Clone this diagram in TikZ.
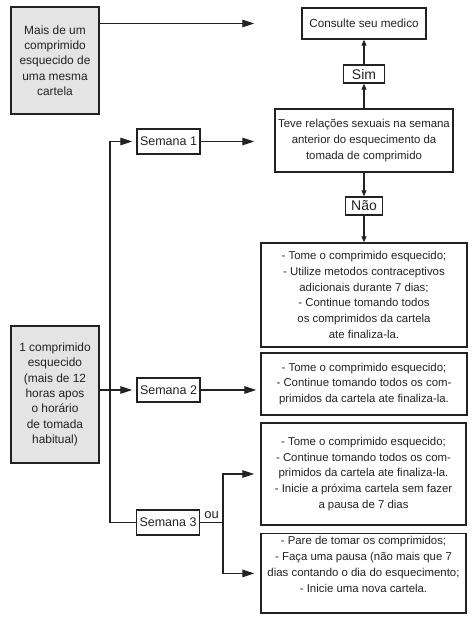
\documentclass[tikz,border=0pt]{standalone}
\usepackage{fontspec}
\setmainfont{Liberation Sans}
\usetikzlibrary{arrows.meta}

\definecolor{ink}{HTML}{222222}
\definecolor{boxgray}{HTML}{E4E4E4}

\begin{document}
\begin{tikzpicture}[x=1pt, y=-1pt,
    box/.style={draw=ink, line width=1.4pt, align=center, text=ink, inner sep=3pt,
      font=\fontsize{11.4}{15.7}\selectfont},
    graybox/.style={box, fill=boxgray, minimum width=88pt, font=\fontsize{11.9}{15.3}\selectfont},
    weekbox/.style={box, minimum width=61pt, minimum height=25pt, font=\fontsize{12.5}{15}\selectfont},
    answer/.style={box, minimum height=18pt, inner sep=1pt, font=\fontsize{14}{15}\selectfont},
    line/.style={draw=ink, line width=1.2pt},
    arr/.style={line, -{Triangle[length=12pt,width=7.5pt]}},
    sarr/.style={line, -{Triangle[length=6pt,width=5pt]}}]
    \useasboundingbox (0,0) rectangle (476,621);
    % left column
    \node[graybox, minimum height=107pt] (mais) at (55,60.5)
      {Mais de um\\comprimido\\esquecido de\\uma mesma\\cartela};
    \node[graybox, minimum height=137pt] (um) at (55,394.5)
      {1 comprimido\\esquecido\\(mais de 12\\horas apos\\o horário\\de tomada\\habitual)};
    % weeks
    \node[weekbox] (semana1) at (168.5,141.5) {Semana 1};
    \node[weekbox, minimum height=24pt] (semana2) at (168.5,390) {Semana 2};
    \node[weekbox, minimum width=62pt] (semana3) at (168,522.5) {Semana 3};
    % right column
    \node[box, minimum width=124pt, minimum height=31pt, font=\fontsize{11.7}{14}\selectfont]
      (consulte) at (364,23.5) {Consulte seu medico};
    \node[answer, minimum width=41pt] (sim) at (364,74) {Sim};
    \node[box, minimum width=178pt, minimum height=63pt] (teve) at (364,140.5)
      {Teve relações sexuais na semana\\anterior do esquecimento da\\tomada de comprimido};
    \node[answer, minimum width=37pt] (nao) at (364,206) {Não};
    \node[box, minimum width=206pt, minimum height=104pt] (b3) at (364,295)
      {- Tome o comprimido esquecido;\\- Utilize metodos contraceptivos\\adicionais durante 7 dias;\\%
       - Continue tomando todos\\os comprimidos da cartela\\ate finaliza-la.};
    \node[box, minimum width=206pt, minimum height=62pt] (b4) at (364,384)
      {- Tome o comprimido esquecido;\\- Continue tomando todos os com-\\primidos da cartela ate finaliza-la.};
    \node[box, minimum width=205pt, minimum height=102pt] (b5) at (363.5,474)
      {- Tome o comprimido esquecido;\\- Continue tomando todos os com-\\primidos da cartela ate finaliza-la.\\%
       - Inicie a próxima cartela sem fazer\\a pausa de 7 dias};
    \node[box, minimum width=205pt, text depth=18pt, anchor=north] (b6) at (363.5,533)
      {- Pare de tomar os comprimidos;\\- Faça uma pausa (não mais que 7\\dias contando o dia do esquecimento;\\- Inicie uma nova cartela.};
    % connectors
    \coordinate (spine) at (110,141.5);
    \coordinate (fork) at (223,522.5);
    \draw[arr, shorten >=47pt] (mais.east |- consulte.west) -- (consulte.west);
    \draw[arr, shorten >=20pt] (semana1.east) -- (semana1.east -| teve.west);
    \draw[sarr] (teve.north) -- (sim.south);
    \draw[sarr] (sim.north) -- (consulte.south);
    \draw[sarr] (teve.south) -- (nao.north);
    \draw[sarr] (nao.south) -- (b3.north);
    \draw[arr, shorten >=4pt] (semana3.west) -| (spine) -- (semana1.west);
    \draw[arr, shorten >=4pt] (um.east |- semana2.west) -- (semana2.west);
    \draw[arr, shorten >=4pt] (semana2.east) -- (semana2.east -| b4.west);
    \draw[line] (semana3.east) -- node[above, inner sep=3.5pt, text=ink,
      font=\fontsize{13}{14}\selectfont] {ou} (fork);
    \draw[arr, shorten >=6pt] (fork) |- (b5.west);
    \draw[arr, shorten >=6pt] (fork) |- (b6.west);
\end{tikzpicture}
\end{document}
